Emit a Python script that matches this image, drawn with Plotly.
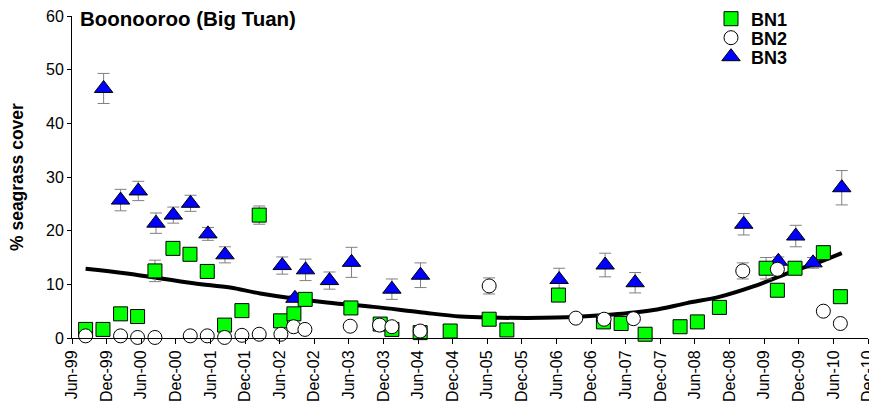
import plotly.graph_objects as go

# x values: months since Jun-1999
tick_labels = ["Jun-99", "Dec-99", "Jun-00", "Dec-00", "Jun-01", "Dec-01", "Jun-02", "Dec-02",
               "Jun-03", "Dec-03", "Jun-04", "Dec-04", "Jun-05", "Dec-05", "Jun-06", "Dec-06",
               "Jun-07", "Dec-07", "Jun-08", "Dec-08", "Jun-09", "Dec-09", "Jun-10", "Dec-10"]
tick_months = [i * 6 for i in range(len(tick_labels))]

bn1_x = [2.36, 5.37, 8.42, 11.37, 14.38, 17.50, 20.45, 23.45, 26.45, 29.46, 32.46, 36.15, 38.47,
         40.43, 48.35, 53.43, 55.46, 60.36, 65.56, 72.32, 75.39, 84.33, 92.13, 95.20, 99.36,
         105.42, 108.42, 112.24, 120.33, 122.29, 125.35, 130.26, 133.21]
bn1_y = [1.6, 1.6, 4.5, 4.0, 12.5, 16.7, 15.6, 12.4, 2.4, 5.1, 22.9, 3.2, 4.5,
         7.2, 5.6, 2.6, 1.6, 1.0, 1.3, 3.5, 1.5, 8.0, 3.0, 2.7, 0.7,
         2.1, 3.0, 5.7, 13.0, 8.9, 13.0, 15.9, 7.7]
bn1_err = [0, 0, 0, 0, 2.0, 0.6, 1.0, 1.0, 0, 0, 1.7, 0, 0,
           0, 0, 0, 0, 0, 0, 0, 0, 1.0, 0, 0, 0,
           0, 0, 0, 2.0, 0, 1.0, 0, 0]

bn2_x = [2.36, 8.42, 11.37, 14.38, 20.50, 23.45, 26.45, 29.46, 32.46, 36.22, 38.41, 40.38,
         48.23, 53.31, 55.46, 60.36, 72.32, 87.35, 92.25, 97.33, 116.29, 122.29, 130.26, 133.21]
bn2_y = [0.4, 0.4, 0.1, 0.1, 0.4, 0.4, 0.1, 0.5, 0.7, 0.7, 2.1, 1.6,
         2.2, 2.4, 2.1, 1.3, 9.7, 3.7, 3.5, 3.6, 12.5, 12.8, 5.0, 2.7]
bn2_err = [0, 0, 0, 0, 0, 0, 0, 0, 0, 0, 0, 0,
           0, 0, 0, 0, 1.5, 0, 0, 0, 1.5, 0, 0, 0]

bn3_x = [5.48, 8.42, 11.49, 14.56, 17.56, 20.55, 23.57, 26.52, 36.45, 38.65, 40.49, 44.64,
         48.46, 55.46, 60.42, 84.45, 92.43, 97.63, 116.46, 122.46, 125.48, 128.47, 133.45]
bn3_y = [46.5, 25.7, 27.4, 21.4, 22.9, 25.1, 19.4, 15.5, 13.5, 7.4, 12.7, 10.7,
         14.1, 9.1, 11.7, 10.9, 13.6, 10.3, 21.2, 14.3, 19.0, 14.0, 28.0]
bn3_err = [2.8, 2.0, 1.8, 1.9, 1.5, 1.5, 1.2, 1.5, 1.6, 0.5, 2.0, 1.6,
           2.8, 1.9, 2.3, 2.1, 2.2, 1.9, 2.0, 0.8, 2.0, 1.0, 3.2]

trend_x = [2.36, 9.53, 21.07, 27.43, 32.63, 44.19, 52.27, 60.36, 67.30, 72.50, 84.06, 92.72,
           96.19, 100.80, 106.59, 112.36, 118.13, 123.92, 129.69, 133.45]
trend_y = [12.9, 12.0, 10.2, 9.4, 8.3, 6.6, 5.8, 4.8, 4.0, 3.8, 3.8, 4.3,
           4.6, 5.2, 6.5, 7.7, 9.6, 12.0, 14.2, 15.8]

FONT = "Arial, Liberation Sans, sans-serif"
# the page body adds an 8px margin, so the figure is 8px smaller than the window
W, H = 869, 401
err_style = dict(type="data", color="#808080", thickness=1, width=6)

fig = go.Figure()
fig.add_trace(go.Scatter(x=trend_x, y=trend_y, mode="lines", line=dict(color="black", width=4, shape="spline"),
                         showlegend=False, hoverinfo="skip"))
fig.add_trace(go.Scatter(x=bn3_x, y=bn3_y, mode="markers", name="BN3", legend="legend3",
                         marker=dict(symbol="triangle-up", size=16, color="#0000FF", line=dict(color="black", width=1)),
                         error_y=dict(array=bn3_err, **err_style), cliponaxis=False))
fig.add_trace(go.Scatter(x=bn1_x, y=bn1_y, mode="markers", name="BN1", legend="legend",
                         marker=dict(symbol="square", size=14, color="#00FF00", line=dict(color="black", width=1)),
                         error_y=dict(array=bn1_err, **err_style), cliponaxis=False))
fig.add_trace(go.Scatter(x=bn2_x, y=bn2_y, mode="markers", name="BN2", legend="legend2",
                         marker=dict(symbol="circle", size=14, color="white", line=dict(color="black", width=1)),
                         error_y=dict(array=bn2_err, **err_style), cliponaxis=False))


def leg(ypx):
    return dict(xref="container", yref="container", x=703 / W, y=1 - ypx / H,
                xanchor="left", yanchor="middle", bgcolor="rgba(0,0,0,0)",
                font=dict(family=FONT, size=18, color="black", weight="bold"))


fig.update_layout(
    width=W, height=H,
    margin=dict(l=64, r=9, t=8, b=71, autoexpand=False),
    plot_bgcolor="white", paper_bgcolor="white",
    font=dict(family=FONT, size=15, color="black"),
    showlegend=True,
    legend=leg(11), legend2=leg(30), legend3=leg(49),
    xaxis=dict(range=[0, 138], tickvals=tick_months, ticktext=tick_labels, tickangle=-90,
               showline=True, linecolor="black", linewidth=1, ticks="outside", ticklen=5,
               tickcolor="black", showgrid=False, zeroline=False, automargin=False,
               ticklabeloverflow="allow",
               tickfont=dict(family=FONT, size=16, color="black")),
    yaxis=dict(range=[0, 60], tickvals=[0, 10, 20, 30, 40, 50, 60],
               showline=True, linecolor="black", linewidth=1, ticks="outside", ticklen=4,
               tickcolor="black", showgrid=False, zeroline=False, automargin=False,
               ticklabeloverflow="allow",
               tickfont=dict(family=FONT, size=16, color="black")),
    annotations=[
        dict(text="<b>Boonooroo (Big Tuan)</b>", xref="paper", yref="paper", x=0.0075, y=1 - 3 / 322,
             xanchor="left", yanchor="middle", showarrow=False,
             font=dict(family=FONT, size=20.5, color="black")),
        dict(text="<b>% seagrass cover</b>", xref="paper", yref="paper", x=-55 / 796, y=0.5,
             xanchor="center", yanchor="middle", textangle=-90, showarrow=False,
             font=dict(family=FONT, size=17.5, color="black")),
    ],
)

fig.write_html("out.html")
